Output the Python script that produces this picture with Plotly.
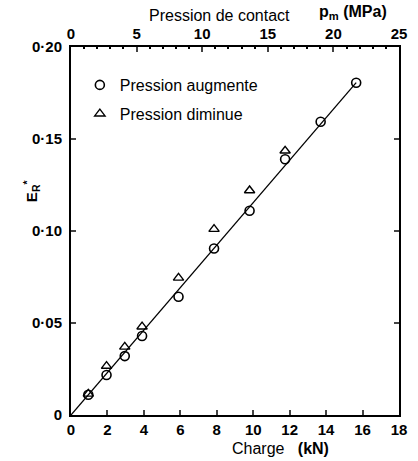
import plotly.graph_objects as go

# Data
charge_aug = [0.95, 1.95, 2.95, 3.9, 5.9, 7.85, 9.8, 11.75, 13.7, 15.65]
er_aug = [0.011, 0.0217, 0.032, 0.0429, 0.0643, 0.0905, 0.111, 0.139, 0.1594, 0.1806]
charge_dim = [0.95, 1.95, 2.95, 3.9, 5.9, 7.85, 9.8, 11.75]
er_dim = [0.0115, 0.0266, 0.037, 0.048, 0.0745, 0.101, 0.122, 0.1436]
fit_x = [0.0, 15.65]
fit_y = [0.0, 0.1806]

x_ticks = [0, 2, 4, 6, 8, 10, 12, 14, 16, 18]
y_ticks = [0, 0.05, 0.10, 0.15, 0.20]
y_ticklabels = ["0", "0·05", "0·10", "0·15", "0·20"]
top_ticks = [0, 5, 10, 15, 20, 25]

FONT = "Liberation Sans"
tickfont = dict(family=FONT, size=15, color="black", weight="bold")

fig = go.Figure()
fig.add_trace(go.Scatter(x=fit_x, y=fit_y, mode="lines",
                         line=dict(color="black", width=1.3), showlegend=False))
fig.add_trace(go.Scatter(x=charge_aug, y=er_aug, mode="markers", name="Pression augmente",
                         legendgroup="a",
                         marker=dict(symbol="circle-open", size=9, color="black",
                                     line=dict(width=1.6))))
fig.add_trace(go.Scatter(x=charge_dim, y=er_dim, mode="markers", name="Pression diminue",
                         legendgroup="b",
                         marker=dict(symbol="triangle-up-open", size=9, color="black",
                                     line=dict(width=1.4))))
# invisible trace to activate top axis
fig.add_trace(go.Scatter(x=[0, 25], y=[None, None], xaxis="x2", mode="markers",
                         showlegend=False, hoverinfo="skip"))

fig.update_layout(
    width=418, height=461,
    margin=dict(l=71, r=11, t=47, b=46),
    paper_bgcolor="white", plot_bgcolor="white",
    showlegend=True,
    legend=dict(x=0.027, y=0.943, xanchor="left", yanchor="top",
                font=dict(family=FONT, size=16, color="black"),
                tracegroupgap=5, traceorder="grouped",
                bgcolor="rgba(0,0,0,0)", itemwidth=30),
    xaxis=dict(range=[0, 18], tickvals=x_ticks, ticks="inside", ticklen=5,
               tickwidth=1.5, showline=True, linecolor="black", linewidth=2,
               showgrid=False, zeroline=False, tickfont=tickfont, mirror=True),
    xaxis2=dict(range=[0, 25], tickvals=top_ticks, overlaying="x", side="top",
                ticks="inside", ticklen=5, tickwidth=1.5, showline=True,
                linecolor="black", linewidth=2, showgrid=False, zeroline=False,
                tickfont=tickfont,
                minor=dict(ticks="inside", ticklen=2, dtick=1, tickcolor="black")),
    yaxis=dict(range=[0, 0.2], tickvals=y_ticks, ticktext=y_ticklabels,
               ticks="inside", ticklen=5, tickwidth=1.5, showline=True,
               linecolor="black", linewidth=2, showgrid=False, zeroline=False,
               tickfont=tickfont, mirror="ticks", ticklabelstandoff=4),
)

fig.add_annotation(text="E<sub>R</sub><sup>*</sup>", xref="paper", yref="paper",
                   x=-0.122, y=0.611, xanchor="center", yanchor="middle",
                   textangle=-90, showarrow=False,
                   font=dict(family=FONT, size=15, color="black", weight="bold"))
fig.add_annotation(text="Charge   <b>(kN)</b>", xref="paper", yref="paper",
                   x=0.64, y=-0.09, xanchor="center", yanchor="middle", showarrow=False,
                   font=dict(family=FONT, size=16, color="black"))
fig.add_annotation(text="Pression de contact", xref="paper", yref="paper",
                   x=0.452, y=1.085, xanchor="center", yanchor="middle", showarrow=False,
                   font=dict(family=FONT, size=16, color="black"))
fig.add_annotation(text="<b>p<sub>m</sub> (MPa)</b>", xref="paper", yref="paper",
                   x=0.86, y=1.095, xanchor="center", yanchor="middle", showarrow=False,
                   font=dict(family=FONT, size=16, color="black"))

fig.write_html("out.html", config={"displayModeBar": False},
               post_script="document.body.style.margin='0';")
